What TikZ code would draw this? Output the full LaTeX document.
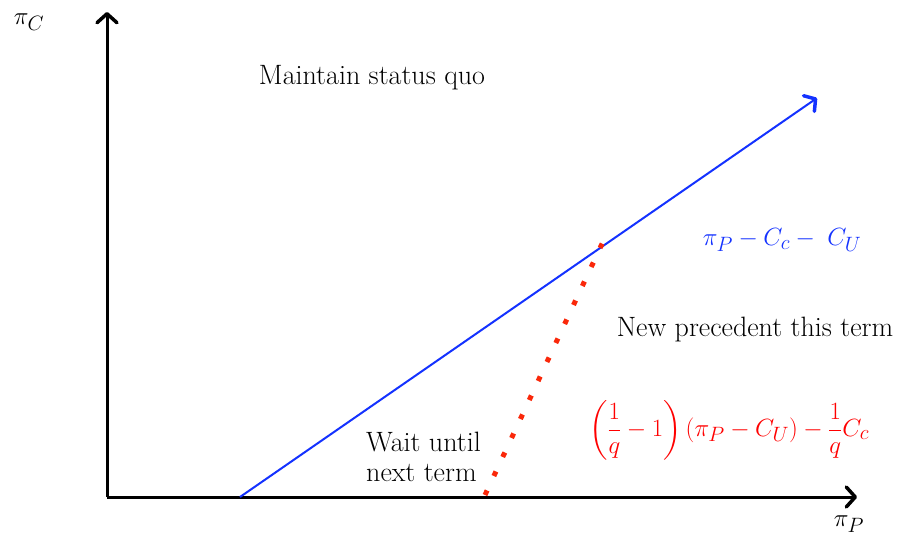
\documentclass[tikz,border=0pt]{standalone}
\usepackage{amsmath}
\usetikzlibrary{arrows.meta}
\definecolor{lineblue}{RGB}{20,50,255}
\definecolor{dotred}{RGB}{250,40,10}
\definecolor{txtred}{RGB}{255,0,0}
\begin{document}
\begin{tikzpicture}[x=1pt,y=-1pt,
  axis/.style={line width=3pt,-{Straight Barb[length=9pt,width=20pt,line width=3.5pt,round]}},
  bluearrow/.style={lineblue,line width=2pt,-{Straight Barb[length=8pt,width=19pt,line width=3.5pt,round]}},
  reddots/.style={dotred,line width=5pt,dash pattern=on 5pt off 15.96pt},
  lbl/.style={font=\fontsize{28}{33}\selectfont,inner sep=0pt},
  mlbl/.style={font=\fontsize{27.5}{33}\selectfont,inner sep=0pt}]
\useasboundingbox (0,0) rectangle (901,538);
\coordinate (O) at (107,497);
\coordinate (ytop) at (107,12);
\coordinate (xend) at (857,497);
\coordinate (bstart) at (240,497);
\coordinate (bend) at (817,98);
\coordinate (rstart) at (485,495);
\coordinate (rend) at (602.1,243.6);
\draw[axis] (O) -- (ytop);
\draw[axis] (O) -- (xend);
\draw[bluearrow] (bstart) -- (bend);
\draw[reddots] (rstart) -- (rend);
\node[mlbl] (piC) at (29,22) {$\pi_C$};
\node[mlbl] (piP) at (849,524) {$\pi_P$};
\node[lbl] (msq) at (372,78) {Maintain status quo};
\node[lbl] (npt) at (755,330) {New precedent this term};
\node[lbl,align=left,anchor=west] (wait) at (366,457) {Wait until\\[-3pt]next term};
\node[mlbl,text=lineblue] (blbl) at (782,240) {$\pi_P - C_c -\; C_U$};
\node[mlbl,text=txtred,font=\fontsize{28}{33}\selectfont] (rlbl) at (729,430) {$\left(\dfrac{1}{q}-1\right)(\pi_P - C_U) - \dfrac{1}{q}C_c$};
\end{tikzpicture}
\end{document}
